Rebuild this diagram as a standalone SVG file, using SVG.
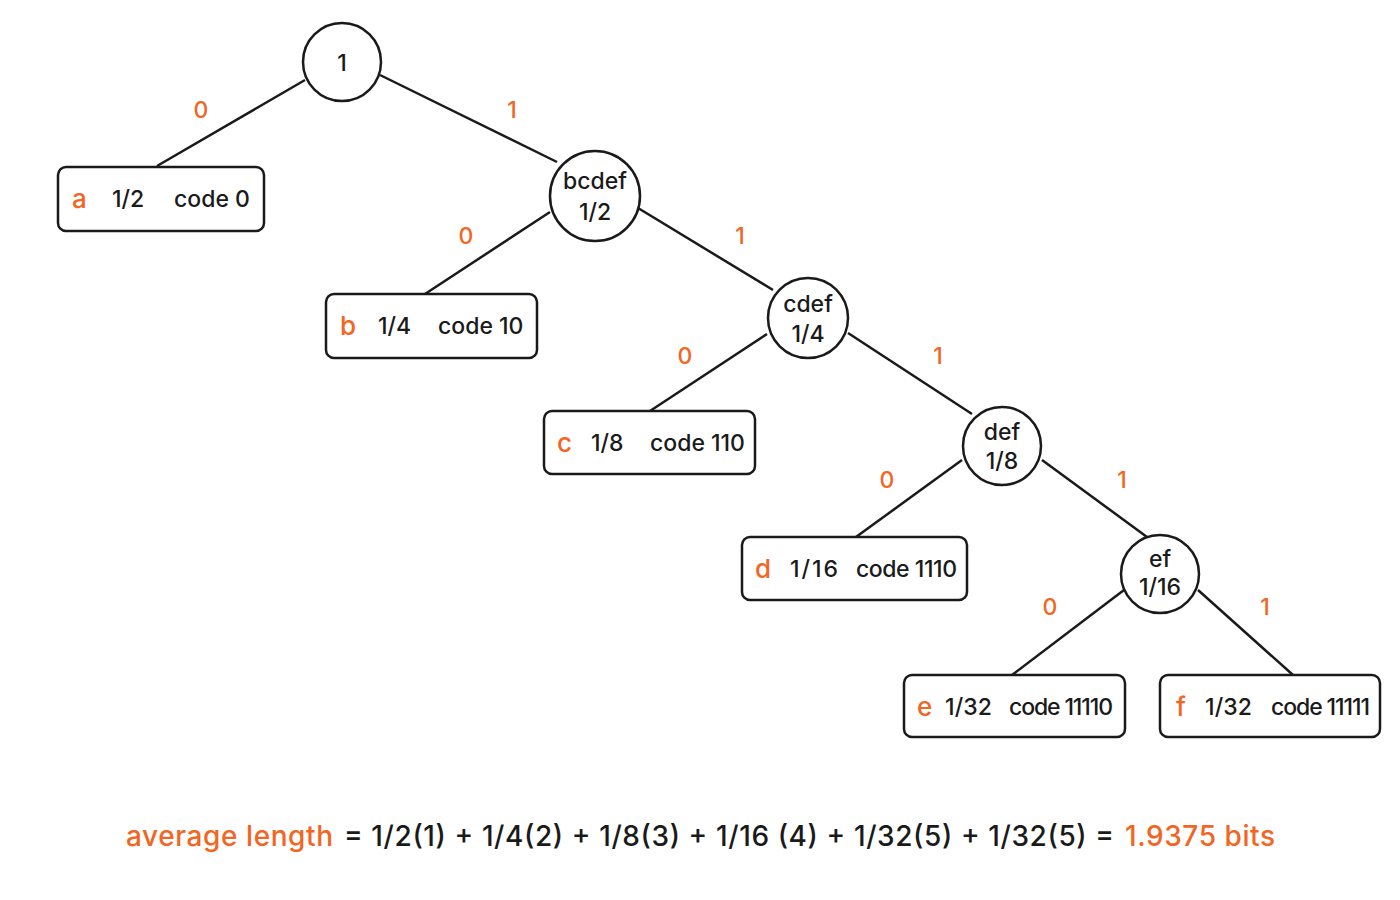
<svg xmlns="http://www.w3.org/2000/svg" width="1400" height="900" viewBox="0 0 1400 900">
<style>
.n{fill:#fff;stroke:#1a1a1a;stroke-width:2.5}
text{font-family:Inter,"Liberation Sans",sans-serif;font-weight:500;font-size:23px;fill:#1a1a1a}
.t{text-anchor:middle}
.o{fill:#f26522;font-size:26px}
.e line{stroke:#1a1a1a;stroke-width:2.5}
.l{fill:#f26522;text-anchor:middle}
</style>
<rect width="1400" height="900" fill="#fff"/>
<g class="e" id="connectors">
<line x1="305" y1="80" x2="157" y2="166"/>
<line x1="380" y1="75" x2="557" y2="162"/>
<line x1="550" y1="212" x2="425" y2="294"/>
<line x1="638" y1="208" x2="773" y2="290"/>
<line x1="767" y1="334" x2="650" y2="411"/>
<line x1="848" y1="333" x2="972" y2="414"/>
<line x1="962" y1="460" x2="856" y2="537"/>
<line x1="1042" y1="460" x2="1147" y2="537"/>
<line x1="1124" y1="590" x2="1012" y2="675"/>
<line x1="1198" y1="590" x2="1293" y2="675"/>
</g>
<g id="edge-labels">
<text class="l" x="201" y="118">0</text><text class="l" x="512" y="118">1</text>
<text class="l" x="466" y="244">0</text><text class="l" x="740" y="244">1</text>
<text class="l" x="685" y="364">0</text><text class="l" x="938" y="364">1</text>
<text class="l" x="887" y="488">0</text><text class="l" x="1122" y="488">1</text>
<text class="l" x="1050" y="615">0</text><text class="l" x="1265" y="615">1</text>
</g>
<g id="root"><circle class="n" cx="342" cy="62" r="39"/><text class="t" x="342" y="71">1</text></g>
<g id="bcdef"><circle class="n" cx="595" cy="196" r="45"/><text class="t" x="595" y="189">bcdef</text><text class="t" x="595" y="220">1/2</text></g>
<g id="cdef"><circle class="n" cx="808" cy="318" r="40"/><text class="t" x="808" y="312">cdef</text><text class="t" x="808" y="342">1/4</text></g>
<g id="def"><circle class="n" cx="1002" cy="446" r="39"/><text class="t" x="1002" y="440">def</text><text class="t" x="1002" y="469">1/8</text></g>
<g id="ef"><circle class="n" cx="1160" cy="574" r="39"/><text class="t" x="1160" y="567" font-size="22">ef</text><text class="t" x="1160" y="595" font-size="22">1/16</text></g>
<g id="a"><rect class="n" x="58" y="167" width="206" height="64" rx="8"/><text x="72" y="208" class="o">a</text><text x="112" y="207">1/2</text><text x="174" y="207">code 0</text></g>
<g id="b"><rect class="n" x="326" y="294" width="211" height="64" rx="8"/><text x="340" y="335" class="o">b</text><text x="378" y="334">1/4</text><text x="438" y="334">code 10</text></g>
<g id="c"><rect class="n" x="544" y="411" width="211" height="63" rx="8"/><text x="557" y="452" class="o">c</text><text x="591" y="451">1/8</text><text x="650" y="451">code 110</text></g>
<g id="d"><rect class="n" x="742" y="537" width="225" height="63" rx="8"/><text x="755" y="578" class="o">d</text><text x="790" y="577" textLength="48">1/16</text><text x="856" y="577" textLength="101">code 1110</text></g>
<g id="e"><rect class="n" x="904" y="675" width="221" height="62" rx="8"/><text x="917" y="716" class="o">e</text><text x="945" y="715" textLength="47">1/32</text><text x="1009" y="715" textLength="104">code 11110</text></g>
<g id="f"><rect class="n" x="1160" y="675" width="220" height="62" rx="8"/><text x="1176" y="716" class="o">f</text><text x="1205" y="715" textLength="47">1/32</text><text x="1271" y="715" textLength="99">code 11111</text></g>
<g id="formula">
<text x="126" y="846" style="fill:#f26522;font-size:28px" textLength="207">average length</text>
<text x="344" y="846" style="font-size:28px" textLength="770">=  1/2(1) + 1/4(2) + 1/8(3) + 1/16 (4) + 1/32(5) + 1/32(5) =</text>
<text x="1125" y="846" style="fill:#f26522;font-size:28px" textLength="150">1.9375 bits</text>
</g>
</svg>
